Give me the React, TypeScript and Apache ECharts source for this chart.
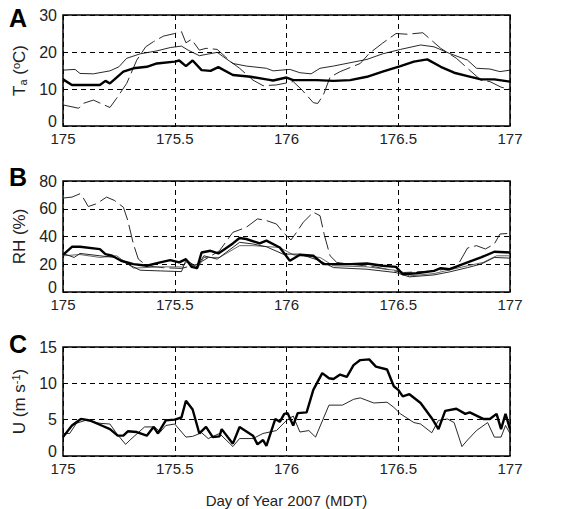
import React, { useEffect, useRef } from "react";
import * as echarts from "echarts";

const xTicks = [175, 175.5, 176, 176.5, 177];

// Panel A: air temperature (°C)
const taThick: number[][] = [
  [175.0, 12.6], [175.04, 11.1], [175.165, 11.1], [175.19, 12.2], [175.21, 11.5], [175.27, 14.7],
  [175.315, 15.6], [175.375, 16.0], [175.42, 16.9], [175.5, 17.4], [175.52, 17.7], [175.55, 16.2],
  [175.58, 17.7], [175.62, 15.1], [175.66, 14.9], [175.695, 15.9], [175.76, 13.8], [175.84, 13.3],
  [175.91, 12.6], [175.94, 12.3], [176.0, 13.1], [176.03, 12.4], [176.135, 12.4], [176.21, 12.2],
  [176.285, 12.4], [176.36, 13.3], [176.43, 14.7], [176.51, 16.2], [176.57, 17.4], [176.63, 18.0],
  [176.69, 16.0], [176.75, 14.4], [176.81, 13.5], [176.87, 12.6], [176.93, 12.6], [177.0, 12.0],
];
const taThin: number[][] = [
  [175.0, 15.1], [175.054, 15.3], [175.076, 14.2], [175.136, 14.1], [175.21, 14.9], [175.25, 16.0],
  [175.285, 18.3], [175.345, 19.5], [175.42, 20.3], [175.48, 21.2], [175.53, 21.6], [175.56, 20.5],
  [175.61, 19.0], [175.69, 19.9], [175.76, 16.9], [175.82, 16.2], [175.91, 15.6], [175.94, 14.9],
  [176.015, 15.3], [176.06, 14.4], [176.11, 14.1], [176.15, 15.6], [176.21, 16.2], [176.36, 18.0],
  [176.43, 19.5], [176.51, 20.7], [176.6, 21.9], [176.66, 21.4], [176.73, 19.6], [176.81, 17.8],
  [176.85, 15.6], [176.91, 15.4], [176.955, 14.7], [177.0, 15.1],
];
const taDash: number[][] = [
  [175.0, 5.7], [175.07, 4.8], [175.09, 6.1], [175.136, 7.0], [175.21, 5.0], [175.24, 7.5],
  [175.285, 11.5], [175.33, 17.8], [175.37, 21.4], [175.405, 22.8], [175.45, 24.3], [175.5, 25.0],
  [175.53, 25.5], [175.55, 22.5], [175.575, 23.4], [175.61, 20.5], [175.64, 21.0], [175.69, 20.7],
  [175.75, 17.4], [175.79, 15.6], [175.85, 12.4], [175.895, 10.9], [175.955, 11.1], [176.03, 12.0],
  [176.07, 9.7], [176.12, 6.3], [176.14, 6.1], [176.165, 8.4], [176.195, 13.2], [176.24, 14.7],
  [176.33, 16.9], [176.37, 19.6], [176.43, 22.4], [176.49, 25.0], [176.54, 24.8], [176.61, 25.2],
  [176.69, 21.0], [176.76, 18.3], [176.81, 15.6], [176.87, 12.4], [176.91, 12.0], [176.96, 10.5],
  [177.0, 9.9],
];

// Panel B: relative humidity (%)
const rhThick: number[][] = [
  [175.0, 26.8], [175.04, 32.6], [175.076, 32.6], [175.165, 30.9], [175.19, 27.3], [175.22, 26.1],
  [175.26, 22.5], [175.315, 20.1], [175.375, 18.9], [175.435, 21.3], [175.48, 23.0], [175.52, 21.3],
  [175.55, 23.7], [175.575, 18.1], [175.6, 17.2], [175.62, 28.5], [175.66, 29.7], [175.695, 27.8],
  [175.76, 35.0], [175.79, 38.9], [175.82, 38.2], [175.88, 35.0], [175.91, 37.0], [175.97, 32.1],
  [176.015, 22.5], [176.06, 26.8], [176.12, 26.1], [176.165, 20.1], [176.285, 20.1], [176.36, 20.5],
  [176.43, 18.9], [176.49, 18.1], [176.52, 12.8], [176.58, 13.5], [176.66, 15.2], [176.69, 17.2],
  [176.73, 16.4], [176.81, 21.3], [176.87, 24.9], [176.93, 29.0], [177.0, 28.5],
];
const rhThin: number[][] = [
  [175.0, 27.8], [175.05, 24.9], [175.076, 27.8], [175.165, 26.1], [175.23, 24.9], [175.285, 20.5],
  [175.345, 15.7], [175.435, 15.2], [175.53, 14.7], [175.55, 23.0], [175.6, 18.1], [175.63, 26.1],
  [175.69, 23.7], [175.79, 35.8], [175.85, 34.6], [175.91, 32.6], [175.985, 27.3], [176.06, 27.3],
  [176.15, 22.5], [176.21, 17.6], [176.36, 16.4], [176.49, 14.0], [176.55, 10.9], [176.66, 12.3],
  [176.73, 14.5], [176.81, 17.6], [176.87, 20.1], [176.93, 24.9], [177.0, 24.4],
];
const rhGrey: number[][] = [
  [175.0, 26.1], [175.076, 27.0], [175.165, 24.9], [175.24, 26.1], [175.315, 17.2], [175.435, 18.1],
  [175.53, 18.1], [175.56, 22.5], [175.6, 16.4], [175.63, 24.9], [175.7, 24.9], [175.79, 33.4],
  [175.85, 33.4], [175.97, 32.1], [176.03, 26.8], [176.15, 24.9], [176.21, 18.9], [176.36, 18.1],
  [176.51, 15.2], [176.55, 11.6], [176.66, 13.3], [176.81, 18.9], [176.88, 21.3], [176.94, 26.1],
  [177.0, 26.1],
];
const rhDash: number[][] = [
  [175.0, 67.7], [175.04, 68.4], [175.076, 70.8], [175.09, 68.0], [175.113, 61.6], [175.15, 63.6],
  [175.195, 68.4], [175.23, 66.0], [175.27, 61.1], [175.29, 51.5], [175.315, 34.6], [175.337, 23.7],
  [175.375, 18.9], [175.45, 17.5], [175.53, 17.0], [175.6, 20.0], [175.7, 29.7], [175.76, 43.0],
  [175.82, 46.6], [175.87, 52.7], [175.91, 51.5], [175.955, 49.0], [175.985, 43.0], [176.02, 37.5],
  [176.045, 43.0], [176.075, 50.3], [176.12, 57.5], [176.15, 55.0], [176.17, 40.6], [176.195, 26.1],
  [176.225, 21.3], [176.285, 20.0], [176.4, 18.0], [176.52, 14.0], [176.65, 15.0], [176.76, 17.6],
  [176.81, 31.7], [176.85, 33.4], [176.89, 31.0], [176.93, 34.6], [176.955, 41.8], [177.0, 42.3],
];

// Panel C: wind speed (m s-1)
const uThick: number[][] = [
  [175.0, 2.6], [175.04, 4.2], [175.08, 5.1], [175.12, 4.9], [175.165, 4.3], [175.21, 3.7],
  [175.245, 2.8], [175.27, 2.8], [175.29, 3.4], [175.33, 3.3], [175.375, 2.8], [175.405, 4.0],
  [175.425, 3.1], [175.46, 4.9], [175.5, 5.0], [175.53, 5.3], [175.55, 7.6], [175.58, 6.4],
  [175.61, 3.1], [175.64, 4.0], [175.67, 2.6], [175.7, 2.7], [175.71, 3.7], [175.76, 1.7],
  [175.79, 4.0], [175.85, 2.8], [175.87, 1.6], [175.895, 2.2], [175.91, 1.4], [175.95, 5.1],
  [175.97, 4.7], [175.99, 5.8], [176.005, 5.9], [176.03, 4.2], [176.05, 5.9], [176.09, 6.0],
  [176.12, 9.1], [176.16, 11.4], [176.19, 10.7], [176.21, 10.6], [176.24, 11.2], [176.27, 10.9],
  [176.3, 12.5], [176.33, 13.2], [176.37, 13.3], [176.4, 12.3], [176.45, 11.9], [176.48, 9.6],
  [176.5, 9.1], [176.52, 8.2], [176.55, 8.5], [176.6, 7.3], [176.65, 5.2], [176.68, 3.7],
  [176.71, 6.2], [176.76, 6.5], [176.8, 5.8], [176.82, 6.0], [176.88, 5.1], [176.91, 5.1],
  [176.94, 5.8], [176.96, 3.7], [176.98, 5.8], [177.0, 3.7],
];
const uThin: number[][] = [
  [175.0, 3.1], [175.03, 3.1], [175.06, 4.5], [175.1, 4.9], [175.165, 4.5], [175.21, 4.4],
  [175.24, 3.1], [175.28, 1.6], [175.3, 2.2], [175.365, 4.0], [175.41, 4.0], [175.435, 3.3],
  [175.46, 4.2], [175.5, 4.4], [175.55, 2.6], [175.58, 2.7], [175.62, 3.2], [175.65, 2.4],
  [175.7, 3.1], [175.76, 1.3], [175.79, 2.4], [175.85, 2.4], [175.895, 3.1], [175.955, 3.5],
  [176.0, 4.9], [176.03, 5.5], [176.06, 3.3], [176.1, 3.5], [176.13, 2.6], [176.19, 7.0],
  [176.25, 7.0], [176.3, 7.8], [176.33, 8.0], [176.39, 7.3], [176.45, 7.4], [176.48, 6.7],
  [176.51, 5.8], [176.57, 4.6], [176.6, 4.4], [176.65, 3.2], [176.68, 4.9], [176.72, 5.1],
  [176.75, 4.6], [176.785, 1.3], [176.81, 2.2], [176.85, 3.5], [176.9, 4.6], [176.93, 2.6],
  [176.96, 2.6], [176.98, 4.2], [177.0, 3.1],
];

const FONT = "'Liberation Sans', Arial, Helvetica, sans-serif";

export default function App() {
  const ref = useRef<HTMLDivElement>(null);
  useEffect(() => {
    if (!ref.current) return;
    const chart = echarts.init(ref.current, undefined, { renderer: "svg" });
    const tops = [15, 181, 347];
    const yCfg = [
      { min: 0, max: 30, interval: 10, name: "T{sub|a} ({sup|o}C)" },
      { min: 0, max: 80, interval: 20, name: "RH (%)" },
      { min: 0, max: 15, interval: 5, name: "U (m s{sup|-1})" },
    ];
    const grids = tops.map((t) => ({
      left: 63, right: 51, top: t, height: 111, show: true,
      borderColor: "#000", borderWidth: 1.5, backgroundColor: "transparent",
    }));
    const xAxes = tops.map((_, i) => ({
      type: "value", gridIndex: i, min: 175, max: 177, interval: 0.5,
      axisLine: { show: false }, axisTick: { show: false },
      axisLabel: {
        color: "#222", fontSize: 15, fontFamily: FONT, margin: 5, showMaxLabel: true,
        formatter: (v: number) => (xTicks.includes(v) ? String(v) : ""),
      },
      splitLine: { show: true, lineStyle: { color: "#000", type: [5, 4], width: 1 } },
      ...(i === 2 ? {
        name: "Day of Year 2007 (MDT)", nameLocation: "middle", nameGap: 37,
        nameTextStyle: { color: "#222", fontSize: 15, fontFamily: FONT },
      } : {}),
    }));
    const yAxes = yCfg.map((c, i) => ({
      type: "value", gridIndex: i, min: c.min, max: c.max, interval: c.interval,
      axisLine: { show: false }, axisTick: { show: false },
      axisLabel: {
        color: "#222", fontSize: 16, fontFamily: FONT, margin: 6,
        formatter: (v: number) => (v === 0 ? "{z|0}" : String(v)),
        rich: { z: { fontSize: 16, fontFamily: FONT, color: "#222", padding: [0, 0, 10, 0] } },
      },
      splitLine: { show: true, lineStyle: { color: "#000", type: [5, 4], width: 1 } },
      name: c.name, nameLocation: "middle", nameGap: 32, nameRotate: 90,
      nameTextStyle: {
        color: "#222", fontSize: 17, fontFamily: FONT,
        rich: {
          sub: { fontSize: 11, fontFamily: FONT, color: "#222", verticalAlign: "bottom", padding: [7, 0, 0, 0] },
          sup: { fontSize: 11, fontFamily: FONT, color: "#222", verticalAlign: "top", padding: [0, 0, 7, 0] },
        },
      },
    }));
    const thick = { color: "#000", width: 2.4 };
    const thin = { color: "#111", width: 0.9 };
    const grey = { color: "#555", width: 0.9 };
    const dash = { color: "#111", width: 0.9, type: [18, 5] as number[] };
    const mk = (data: number[][], idx: number, ls: any, z = 2) => ({
      type: "line", xAxisIndex: idx, yAxisIndex: idx, data, showSymbol: false, symbol: "none",
      lineStyle: ls, z, silent: true,
    });
    chart.setOption({
      animation: false,
      backgroundColor: "#fff",
      grid: grids,
      xAxis: xAxes,
      yAxis: yAxes,
      series: [
        mk(taDash, 0, dash), mk(taThin, 0, thin), mk(taThick, 0, thick, 3),
        mk(rhDash, 1, dash), mk(rhGrey, 1, grey), mk(rhThin, 1, thin), mk(rhThick, 1, thick, 3),
        mk(uThin, 2, thin), mk(uThick, 2, thick, 3),
      ],
      graphic: [
        { type: "text", left: 9, top: 5, style: { text: "A", font: `bold 25px ${FONT}`, fill: "#000" } },
        { type: "text", left: 9, top: 164, style: { text: "B", font: `bold 25px ${FONT}`, fill: "#000" } },
        { type: "text", left: 9, top: 331, style: { text: "C", font: `bold 25px ${FONT}`, fill: "#000" } },
      ],
    });
    return () => chart.dispose();
  }, []);
  return <div ref={ref} style={{ width: 561, height: 509, position: "absolute", left: 0, top: 0 }} />;
}
